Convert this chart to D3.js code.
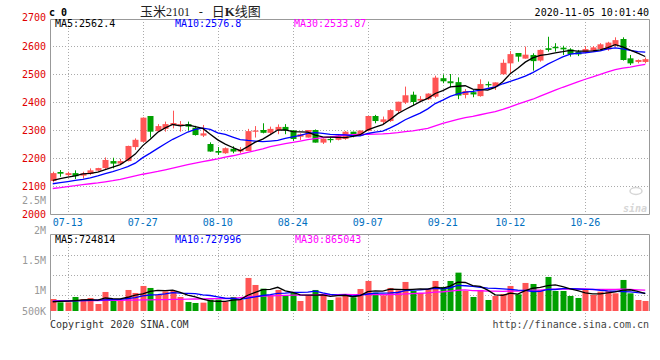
<!DOCTYPE html>
<html><head><meta charset="utf-8">
<script src="https://cdn.jsdelivr.net/npm/d3@7/dist/d3.min.js"></script>
<style>
body{margin:0;background:#fff}
svg{display:block}
text{font-family:"DejaVu Sans Mono",monospace;font-size:10px}
</style>
</head><body>
<svg id="chart" width="660" height="360"></svg>
<script>
// ---------- data ----------
const dates = ["07-09","07-10","07-13","07-14","07-15","07-16","07-17","07-20","07-21","07-22","07-23","07-24","07-27","07-28","07-29","07-30","07-31",
"08-03","08-04","08-05","08-06","08-07","08-10","08-11","08-12","08-13","08-14","08-17","08-18","08-19","08-20","08-21","08-24","08-25","08-26","08-27","08-28","08-31",
"09-01","09-02","09-03","09-04","09-07","09-08","09-09","09-10","09-11","09-14","09-15","09-16","09-17","09-18","09-21","09-22","09-23","09-24","09-25","09-28","09-29","09-30",
"10-09","10-12","10-13","10-14","10-15","10-16","10-19","10-20","10-21","10-22","10-23","10-26","10-27","10-28","10-29","10-30",
"11-02","11-03","11-04","11-05"];
const tickLabels = ["07-13","07-27","08-10","08-24","09-07","09-21","10-12","10-26"];
const priceTicks = [2000,2100,2200,2300,2400,2500,2600,2700];

const open  = [2118,2150,2139,2146,2137,2143,2155,2164,2189,2180,2189,2239,2258,2350,2296,2304,2318,2316,2321,2308,
2280,2250,2225,2217,2233,2223,2225,2294,2300,2290,2300,2311,2299,2276,2273,2300,2255,2268,2265,2268,
2294,2279,2297,2350,2329,2332,2368,2398,2426,2405,2410,2419,2485,2474,2471,2425,2435,2421,2464,2455,
2499,2538,2575,2555,2568,2548,2592,2597,2594,2588,2580,2576,2583,2589,2588,2602,2625,2556,2543,2543];
const close = [2146,2144,2146,2135,2145,2156,2164,2193,2180,2189,2243,2265,2344,2294,2314,2321,2325,2321,2312,2282,
2288,2223,2219,2235,2223,2230,2296,2298,2290,2304,2311,2299,2268,2285,2300,2255,2269,2265,2280,2294,
2279,2298,2350,2332,2338,2371,2401,2424,2400,2411,2430,2487,2474,2467,2423,2439,2427,2464,2460,2470,
2540,2571,2562,2569,2546,2586,2586,2592,2588,2571,2570,2589,2595,2606,2612,2621,2550,2538,2550,2553];
const high  = [2151,2157,2151,2156,2151,2163,2165,2202,2201,2197,2244,2270,2345,2350,2321,2330,2369,2332,2330,2315,
2318,2256,2239,2238,2242,2239,2304,2314,2324,2312,2320,2321,2300,2288,2300,2302,2270,2276,2282,2296,
2294,2298,2350,2354,2348,2374,2401,2455,2437,2421,2431,2494,2498,2500,2488,2446,2445,2481,2473,2470,
2552,2582,2575,2598,2574,2588,2633,2610,2601,2592,2586,2600,2600,2610,2615,2631,2631,2568,2552,2559];
const low   = [2113,2133,2135,2125,2127,2139,2154,2161,2163,2177,2188,2229,2256,2273,2293,2294,2306,2294,2298,2280,
2275,2222,2211,2215,2217,2217,2225,2273,2288,2286,2285,2285,2261,2264,2273,2255,2250,2255,2263,2265,
2274,2279,2295,2324,2321,2329,2360,2393,2389,2399,2407,2414,2467,2452,2410,2413,2417,2419,2452,2443,
2497,2502,2544,2555,2512,2544,2580,2580,2568,2562,2564,2574,2580,2586,2583,2597,2548,2532,2538,2538];
const volume = [494000,357000,357000,577000,494000,536000,288000,783000,453000,440000,
865000,742000,1030000,948000,673000,810000,824000,577000,371000,330000,
343000,467000,467000,385000,577000,453000,1360000,1071000,920000,659000,
865000,632000,742000,412000,632000,865000,659000,453000,563000,700000,
563000,906000,1236000,755000,645000,948000,851000,1195000,824000,742000,
906000,1236000,989000,1236000,1579000,824000,577000,865000,453000,618000,
700000,1030000,687000,1154000,1112000,865000,1401000,824000,824000,618000,
536000,906000,659000,796000,838000,728000,1277000,728000,453000,412000];

// moving-average values before enough history is shown
const ma5Head  = [2120,2126,2132,2136];
const ma10Head = [2108,2112,2116,2120,2124,2129,2136,2144,2151];
const ma30Head = [2091,2094,2098,2101,2105,2108,2111,2115,2119,2124,2130,2136,2142,2147,2152,2158,2164,2170,2176,
2182,2187,2192,2197,2203,2208,2214,2220,2226,2233];
const vma5Head  = [380000,395000,410000,430000];
const vma10Head = [400000,405000,410000,420000,430000,440000,445000,455000,465000];
const vma30Head = [420000,422000,424000,426000,428000,430000,432000,435000,438000,441000,445000,450000,455000,460000,465000,
470000,476000,482000,488000,494000,500000,505000,510000,515000,520000,548000,578000,599000,615000];

const volLabels = [[2500000,"2.5M"],[2000000,"2M"],[1500000,"1.5M"],[1000000,"1M"],[500000,"500K"]];
const priceLegend = [["MA5:2562.4","#000"],["MA10:2576.8","#0000ff"],["MA30:2533.87","#ff00ff"]];
const volLegend = [["MA5:724814","#000"],["MA10:727996","#0000ff"],["MA30:865043","#ff00ff"]];

// ---------- helpers ----------
function movingAvg(arr, n, head){
  return arr.map((v,i)=> i < n-1 ? head[i] : d3.mean(arr.slice(i-n+1, i+1)));
}

const svg = d3.select("#chart");
const L = 50, R = 649, PT = 19, PB = 214, VT = 235, VB = 315;
const RED = "#ff5555", GREEN = "#00a000", GRID = "#aaaaaa", FRAME = "#999999";

const x = d3.scaleBand().domain(dates).range([49,649]).paddingInner(0.27).paddingOuter(0.135);
const xc = d => x(d) + x.bandwidth()/2;
const y = d3.scaleLinear().domain([2000,2700]).range([214,18]);
const yv = d3.scaleLinear().domain([0,1000000]).range([311,286.7]);
const yvLab = d3.scaleLinear().domain([500000,1000000,2500000]).range([311,290.7,200.7]);

// ---------- header ----------
svg.append("text").attr("x",49).attr("y",16).attr("font-size","12px").attr("font-weight","bold").attr("fill","#000").text("c 0");
const title = svg.append("text").attr("x",140).attr("y",15.5).attr("fill","#222");
title.append("tspan").attr("font-family","'Noto Sans CJK SC'").attr("font-size","13px").text("玉米");
title.append("tspan").attr("font-family","'Liberation Serif'").attr("font-size","12px").text("2101");
title.append("tspan").attr("font-family","'DejaVu Sans Mono'").attr("font-size","12px").text(" - ");
title.append("tspan").attr("font-family","'Noto Sans CJK SC'").attr("font-size","13px").text(" 日");
title.append("tspan").attr("font-family","'Liberation Serif'").attr("font-size","13px").attr("font-weight","bold").text("K");
title.append("tspan").attr("font-family","'Noto Sans CJK SC'").attr("font-size","13px").text("线图");
svg.append("text").attr("x",649).attr("y",16).attr("text-anchor","end").attr("fill","#000").text("2020-11-05 10:01:40");

// ---------- price panel ----------
const gP = svg.append("g");
gP.selectAll(".hg").data(priceTicks.filter(v=>v>2000 && v<2700)).join("line")
  .attr("x1",L).attr("x2",R).attr("y1",d=>Math.round(y(d))+0.5).attr("y2",d=>Math.round(y(d))+0.5)
  .attr("stroke",GRID).attr("stroke-dasharray","1,2");
gP.selectAll(".vg").data(tickLabels).join("line")
  .attr("x1",d=>Math.round(xc(d))+0.5).attr("x2",d=>Math.round(xc(d))+0.5).attr("y1",PT).attr("y2",PB)
  .attr("stroke",GRID).attr("stroke-dasharray","1,2");
gP.append("path").attr("d",`M${L+0.5},${PT+0.5}H${R+0.5}V${PB+0.5}H${L+0.5}Z`).attr("fill","none").attr("stroke",FRAME);

// y labels
svg.selectAll(".yl").data(priceTicks).join("text")
  .attr("x",46).attr("y",d=>y(d)+ (d===2700?-1:0)).attr("dy","0.35em").attr("text-anchor","end")
  .attr("fill","#e00000").text(d=>d);
svg.selectAll(".vl").data(volLabels).join("text")
  .attr("x",46).attr("y",d=>yvLab(d[0])).attr("dy","0.35em").attr("text-anchor","end")
  .attr("fill","#999").text(d=>d[1]);

// watermark
const wm = svg.append("g").attr("fill","#d6d6d6");
wm.append("text").attr("x",647).attr("y",212).attr("text-anchor","end").attr("font-family","'DejaVu Sans'")
  .attr("font-size","18px").attr("font-style","italic").attr("font-weight","bold").text("sina");
wm.append("ellipse").attr("cx",636).attr("cy",191).attr("rx",6).attr("ry",3.5).attr("fill","none").attr("stroke","#d6d6d6").attr("stroke-width",1.5);

// candles
const idx = d3.range(dates.length);
const gC = svg.append("g");
gC.selectAll(".wick").data(idx).join("line")
  .attr("x1",i=>Math.round(xc(dates[i]))+0.5).attr("x2",i=>Math.round(xc(dates[i]))+0.5)
  .attr("y1",i=>y(high[i])).attr("y2",i=>y(low[i]))
  .attr("stroke",i=>close[i]>=open[i]?RED:GREEN);
gC.selectAll(".body").data(idx).join("rect")
  .attr("x",i=>Math.round(xc(dates[i]))-2.5).attr("width",6)
  .attr("y",i=>y(Math.max(open[i],close[i])))
  .attr("height",i=>Math.max(1.2, Math.abs(y(open[i])-y(close[i]))))
  .attr("fill",i=>close[i]>=open[i]?RED:GREEN);

// MA lines
const ma5 = movingAvg(close,5,ma5Head), ma10 = movingAvg(close,10,ma10Head), ma30 = movingAvg(close,30,ma30Head);
const lineP = d3.line().x((v,i)=>xc(dates[i])).y(v=>y(v));
[[ma30,"#ff00ff"],[ma10,"#0000ff"],[ma5,"#000"]].forEach(([s,c])=>{
  svg.append("path").attr("d",lineP(s)).attr("fill","none").attr("stroke",c).attr("stroke-width",1.3);
});

svg.selectAll(".pleg").data(priceLegend).join("text")
  .attr("x",(d,i)=>[55,175,294][i]).attr("y",27).attr("fill",d=>d[1]).text(d=>d[0]);

// x labels
svg.selectAll(".xl").data(tickLabels).join("text")
  .attr("x",d=>xc(d)).attr("y",225.5).attr("text-anchor","middle").attr("fill","#0070c0").text(d=>d);

// ---------- volume panel ----------
const gV = svg.append("g");
gV.selectAll(".vhg").data(d3.range(1,4)).join("line")
  .attr("x1",L).attr("x2",R).attr("y1",k=>VT+k*20+0.5).attr("y2",k=>VT+k*20+0.5)
  .attr("stroke",GRID).attr("stroke-dasharray","1,2");
gV.selectAll(".vvg").data(tickLabels).join("line")
  .attr("x1",d=>Math.round(xc(d))+0.5).attr("x2",d=>Math.round(xc(d))+0.5).attr("y1",VT).attr("y2",320)
  .attr("stroke",GRID).attr("stroke-dasharray","1,2");
gV.append("path").attr("d",`M${L+0.5},320V${VT-0.5}H${R+0.5}V311`).attr("fill","none").attr("stroke",FRAME);

gV.selectAll(".vbar").data(idx).join("rect")
  .attr("x",i=>Math.round(xc(dates[i]))-2.5).attr("width",6)
  .attr("y",i=>yv(volume[i])).attr("height",i=>yv(0)-yv(volume[i]))
  .attr("fill",i=>close[i]>=open[i]?RED:GREEN);

const vma5 = movingAvg(volume,5,vma5Head), vma10 = movingAvg(volume,10,vma10Head), vma30 = movingAvg(volume,30,vma30Head);
const lineV = d3.line().x((v,i)=>xc(dates[i])).y(v=>yv(v));
[[vma30,"#ff00ff"],[vma10,"#0000ff"],[vma5,"#000"]].forEach(([s,c])=>{
  svg.append("path").attr("d",lineV(s)).attr("fill","none").attr("stroke",c).attr("stroke-width",1.3);
});

svg.selectAll(".vleg").data(volLegend).join("text")
  .attr("x",(d,i)=>[55,175,295][i]).attr("y",243).attr("fill",d=>d[1]).text(d=>d[0]);

// footer
svg.append("text").attr("x",50).attr("y",328).attr("fill","#333").text("Copyright 2020 SINA.COM");
svg.append("text").attr("x",649).attr("y",328).attr("text-anchor","end").attr("fill","#444").text("http://finance.sina.com.cn");
</script>
</body></html>
